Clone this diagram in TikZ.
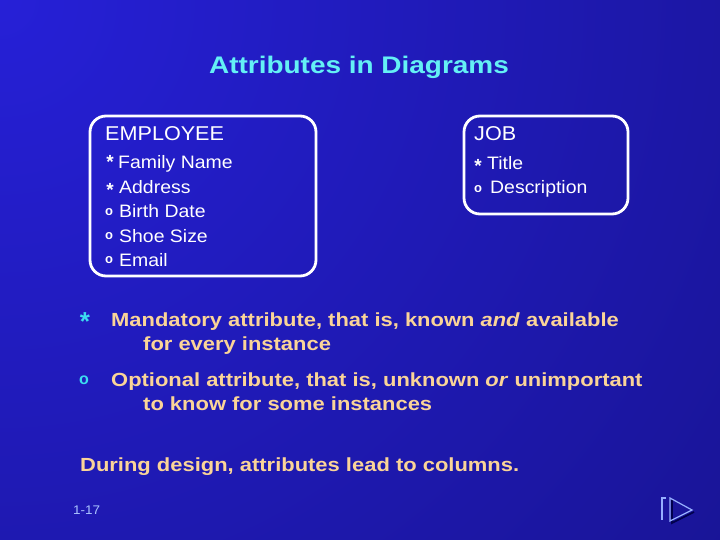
\documentclass[tikz,border=0pt]{standalone}
\usepackage{fontspec}
\setmainfont{Liberation Sans}
\newfontfamily\whitefont[FakeStretch=1.08]{Liberation Sans}
\newfontfamily\legendfont[FakeStretch=1.155]{Liberation Sans}
\newfontfamily\titlefont[FakeStretch=1.165]{Liberation Sans}
\begin{document}
\begin{tikzpicture}[x=1pt,y=-1pt,
  boxframe/.style={draw=white,line width=2.8pt,rounded corners=16pt},
  attr/.style={anchor=base west,inner sep=0pt,text=white,font=\whitefont\fontsize{18}{20}\selectfont},
  head/.style={anchor=base west,inner sep=0pt,text=white,font=\whitefont\fontsize{20}{22}\selectfont},
  bullet/.style={anchor=center,inner sep=0pt,text=white,font=\bfseries\fontsize{19}{20}\selectfont},
  legend/.style={anchor=base west,inner sep=0pt,text=peach,font=\legendfont\bfseries\fontsize{19}{22}\selectfont},
  lbullet/.style={anchor=center,inner sep=0pt,text=cyanmark,font=\bfseries\fontsize{26}{28}\selectfont},
  iconline/.style={draw=iconblue,line width=1.2pt},
  iconshadow/.style={draw=black!70!blue,line width=1.6pt}
]
\definecolor{bgbright}{RGB}{38,32,215}
\definecolor{bgdark}{RGB}{18,14,116}
\definecolor{titlecyan}{RGB}{100,240,245}
\definecolor{peach}{RGB}{250,212,152}
\definecolor{cyanmark}{RGB}{60,220,240}
\definecolor{iconblue}{RGB}{150,175,255}
\definecolor{pagenum}{RGB}{170,195,255}
\useasboundingbox (0,0) rectangle (720,540);
\begin{scope}
\clip (0,0) rectangle (720,540);
\fill[bgdark] (0,0) rectangle (720,540);
\shade[inner color=bgbright,outer color=bgdark] (0,0) circle (1400pt);
\end{scope}

\node[anchor=base,inner sep=0pt,text=titlecyan,font=\titlefont\bfseries\fontsize{24}{28}\selectfont] (title) at (359,74) {Attributes in Diagrams};

% EMPLOYEE box
\draw[boxframe] (90,116) rectangle (316,276);
\node[head] (emp) at (105,141) {EMPLOYEE};
\node[bullet] (s1) at (110,162) {*};
\node[attr] (a1) at (118,169) {Family Name};
\node[bullet] (s2) at (110,190) {*};
\node[attr] (a2) at (119,194) {Address};
\node[bullet] (o1) at (109,212) {\fontsize{13}{14}\selectfont\bfseries o};
\node[attr] (a3) at (119,218) {Birth Date};
\node[bullet] (o2) at (109,236) {\fontsize{13}{14}\selectfont\bfseries o};
\node[attr] (a4) at (119,242) {Shoe Size};
\node[bullet] (o3) at (109,260) {\fontsize{13}{14}\selectfont\bfseries o};
\node[attr] (a5) at (119,266) {Email};

% JOB box
\draw[boxframe] (464,116) rectangle (628,214);
\node[head] (job) at (474,141) {JOB};
\node[bullet] (s3) at (478,166) {*};
\node[attr] (b1) at (487,170) {Title};
\node[bullet] (o4) at (478,189) {\fontsize{13}{14}\selectfont\bfseries o};
\node[attr] (b2) at (490,194) {Description};

% legend
\node[lbullet] (ls) at (85,322) {*};
\node[legend] (l1) at (111,326) {Mandatory attribute, that is, known \textit{and} available};
\node[legend] (l2) at (143,350) {for every instance};
\node[lbullet] (lo) at (84,380) {\fontsize{16}{17}\selectfont o};
\node[legend] (l3) at (111,386) {Optional attribute, that is, unknown \textit{or} unimportant};
\node[legend] (l4) at (143,410) {to know for some instances};

\node[legend] (dd) at (80,471) {During design, attributes lead to columns.};

\node[anchor=base west,inner sep=0pt,text=pagenum,font=\whitefont\fontsize{12.5}{14}\selectfont] (pg) at (73,514) {1-17};

% navigation icon
\coordinate (ia) at (662,498);
\coordinate (ib) at (662,520);
\coordinate (ic) at (670,498);
\coordinate (id) at (670,521);
\coordinate (ie) at (692,510);
\draw[iconshadow] ([shift={(2,2)}]ic) -- ([shift={(2,2)}]id) -- ([shift={(2,2)}]ie);
\draw[iconline] ([shift={(4,0)}]ia) -- (ia) -- (ib);
\draw[iconline] (id) -- (ic) -- (ie) -- cycle;
\end{tikzpicture}
\end{document}
